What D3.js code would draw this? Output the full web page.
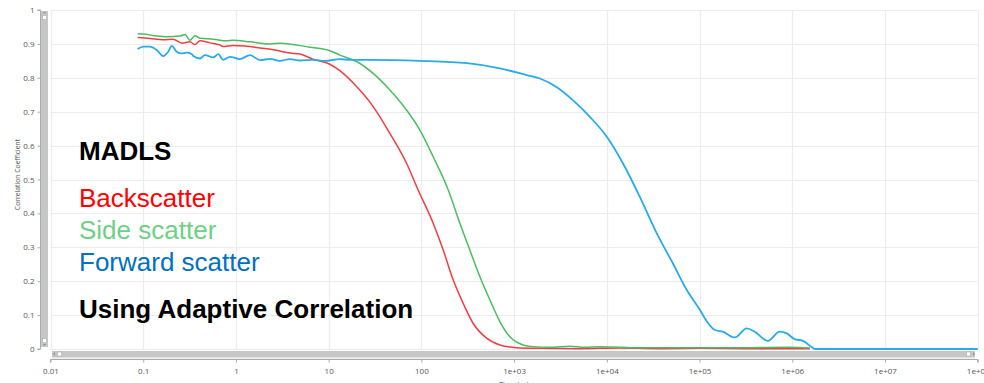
<!DOCTYPE html>
<html>
<head>
<meta charset="utf-8">
<script src="https://cdn.jsdelivr.net/npm/d3@7"></script>
<style>
  html, body { margin: 0; padding: 0; background: #fff; overflow: hidden; }
  svg { display: block; }
</style>
</head>
<body>
<svg id="chart" width="984" height="383"></svg>
<script>
// ---------- data (time in µs, correlation coefficient) ----------
const backTime = [0.0871,0.118,0.163,0.210,0.262,0.319,0.361,0.409,0.525,0.672,0.724,0.929,1.25,1.82,2.63,3.82,4.90,6.76,10.3,13.2,20.0,30.2,45.7,69.2,92.3,134,172,220,282,361,505,702,1060,1900,5120,13800,37200,101000,348000,1550000];
const backValue = [0.919,0.916,0.912,0.914,0.902,0.906,0.898,0.909,0.903,0.897,0.892,0.895,0.894,0.888,0.882,0.873,0.870,0.855,0.840,0.821,0.774,0.715,0.636,0.548,0.469,0.371,0.292,0.204,0.135,0.076,0.032,0.012,0.004,0.002,0.001,0.003,0.001,0.002,0.001,0.001];

const sideTime = [0.0871,0.100,0.140,0.179,0.249,0.282,0.319,0.361,0.409,0.569,0.794,0.935,1.42,2.33,2.98,6.28,10.3,13.2,20.0,30.2,45.7,69.2,96.4,134,195,260,333,428,548,702,900,1250,1590,2430,3990,5790,8410,22700,101000,348000,940000,1550000];
const sideValue = [0.930,0.929,0.923,0.921,0.923,0.928,0.911,0.924,0.917,0.914,0.909,0.911,0.906,0.900,0.902,0.890,0.880,0.867,0.848,0.813,0.764,0.705,0.646,0.567,0.469,0.371,0.292,0.213,0.145,0.081,0.036,0.012,0.007,0.005,0.008,0.005,0.007,0.004,0.004,0.004,0.005,0.003];

const fwdTime = [0.0871,0.100,0.118,0.140,0.164,0.186,0.203,0.230,0.260,0.294,0.333,0.347,0.409,0.463,0.569,0.644,0.729,0.861,1.10,1.42,1.82,2.33,2.98,3.82,4.90,6.76,9.12,13.2,16.9,27.9,96.4,310,702,1370,1900,2890,4300,6560,10000,14900,22700,34600,51500,72900,101000,120000,146000,178000,240000,323000,394000,544000,733000,873000,1060000,1300000,1620000,1750000,100000000];
const fwdValue = [0.885,0.892,0.892,0.882,0.864,0.877,0.894,0.877,0.872,0.874,0.870,0.864,0.857,0.867,0.860,0.870,0.853,0.862,0.855,0.867,0.852,0.856,0.850,0.855,0.851,0.853,0.850,0.855,0.853,0.853,0.850,0.843,0.828,0.808,0.798,0.772,0.734,0.685,0.626,0.548,0.449,0.341,0.253,0.174,0.115,0.081,0.056,0.051,0.034,0.061,0.051,0.024,0.051,0.046,0.029,0.024,0.006,0,0];

const xTickValues = [0.01,0.1,1,10,100,1e3,1e4,1e5,1e6,1e7,1e8];
const xTickLabels = ["0.01","0.1","1","10","100","1e+03","1e+04","1e+05","1e+06","1e+07","1e+08"];
const yTickValues = [0,0.1,0.2,0.3,0.4,0.5,0.6,0.7,0.8,0.9,1];
const yTickLabels = ["0","0.1","0.2","0.3","0.4","0.5","0.6","0.7","0.8","0.9","1"];

const seriesNames = ["Backscatter","Side scatter","Forward scatter"];
const titleText = "MADLS";
const footText = "Using Adaptive Correlation";
const xTitle = "Time (µs)";
const yTitle = "Correlation Coefficient";

// ---------- drawing ----------
const svg = d3.select("#chart");
const pLeft = 50.5, pRight = 977.7, pTop = 10, pBottom = 349;
const x = d3.scaleLog().domain([0.01, 1e8]).range([pLeft, pRight]);
const y = d3.scaleLinear().domain([0, 1]).range([pBottom, pTop]);

// grid
const grid = svg.append("g");
grid.selectAll("line.h").data(yTickValues).join("line")
  .attr("x1", pLeft).attr("x2", pRight)
  .attr("y1", d => Math.round(y(d)) + 0.5).attr("y2", d => Math.round(y(d)) + 0.5)
  .attr("stroke", "#ececec").attr("stroke-width", 1.2);
grid.selectAll("line.v").data(xTickValues).join("line")
  .attr("x1", d => Math.round(x(d)) + 0.5).attr("x2", d => Math.round(x(d)) + 0.5)
  .attr("y1", pTop).attr("y2", pBottom)
  .attr("stroke", "#ececec").attr("stroke-width", 1.2);

// curves
const series = [
  { t: backTime, v: backValue, color: "#ef3e42", w: 1.5 },
  { t: sideTime, v: sideValue, color: "#4cbb63", w: 1.5 },
  { t: fwdTime, v: fwdValue, color: "#2aaae6", w: 1.8 }
];
const line = d3.line().x(d => x(d[0])).y(d => y(d[1])).curve(d3.curveMonotoneX);
series.forEach(s => {
  svg.append("path")
    .datum(s.t.map((t, i) => [t, s.v[i]]))
    .attr("d", line)
    .attr("fill", "none")
    .attr("stroke", s.color)
    .attr("stroke-width", s.w)
    .attr("stroke-linejoin", "round");
});

// vertical scrollbar
svg.append("rect").attr("x", 41).attr("y", 11).attr("width", 7).attr("height", 336).attr("fill", "#c6c6c6");
svg.append("rect").attr("x", 42.5).attr("y", 15.5).attr("width", 4).attr("height", 4).attr("fill", "#fff").attr("stroke", "#aaa").attr("stroke-width", 0.6);
svg.append("rect").attr("x", 42.5).attr("y", 338.5).attr("width", 4).attr("height", 4).attr("fill", "#fff").attr("stroke", "#aaa").attr("stroke-width", 0.6);
svg.append("path").attr("d", "M42.5,13.5 L44.5,11.5 L46.5,13.5 Z").attr("fill", "#999");
svg.append("path").attr("d", "M42.5,344 L44.5,346 L46.5,344 Z").attr("fill", "#999");

// horizontal scrollbar
svg.append("rect").attr("x", 52).attr("y", 351).attr("width", 923).attr("height", 6).attr("fill", "#c6c6c6");
svg.append("rect").attr("x", 52).attr("y", 357).attr("width", 923).attr("height", 1.5).attr("fill", "#e2e2e2");
svg.append("rect").attr("x", 57.5).attr("y", 352).attr("width", 4).attr("height", 4).attr("fill", "#fff").attr("stroke", "#aaa").attr("stroke-width", 0.6);
svg.append("rect").attr("x", 966.5).attr("y", 352).attr("width", 4).attr("height", 4).attr("fill", "#fff").attr("stroke", "#aaa").attr("stroke-width", 0.6);
svg.append("path").attr("d", "M55,352 L53,354 L55,356 Z").attr("fill", "#999");
svg.append("path").attr("d", "M973,352 L975,354 L973,356 Z").attr("fill", "#999");

// axes
const xAxis = d3.axisBottom(x).tickValues(xTickValues)
  .tickFormat((d, i) => xTickLabels[i]).tickSize(3).tickPadding(6);
const gx = svg.append("g").attr("transform", "translate(0,359.5)").call(xAxis);
gx.select(".domain").attr("stroke", "#aaa").attr("d", `M${pLeft},3V0H${pRight}V3`);
gx.selectAll(".tick line").attr("stroke", "#aaa");
gx.selectAll(".tick text").attr("fill", "#555").attr("font-size", "8px")
  .attr("font-family", "'Open Sans', 'Liberation Sans', sans-serif");

const yAxis = d3.axisLeft(y).tickValues(yTickValues)
  .tickFormat((d, i) => yTickLabels[i]).tickSize(3).tickPadding(3);
const gy = svg.append("g").attr("transform", "translate(40.5,0)").call(yAxis);
gy.select(".domain").attr("stroke", "#aaa").attr("d", `M-3,${pTop}H0V${pBottom}H-3`);
gy.selectAll(".tick line").attr("stroke", "#aaa");
gy.selectAll(".tick text").attr("fill", "#555").attr("font-size", "8px")
  .attr("font-family", "'Open Sans', 'Liberation Sans', sans-serif");

// axis titles
svg.append("text").attr("x", (pLeft + pRight) / 2).attr("y", 386.5)
  .attr("text-anchor", "middle").attr("font-size", "7px").attr("fill", "#444")
  .attr("font-family", "'Open Sans', sans-serif").text(xTitle);
svg.append("text").attr("transform", "translate(19.5,174.5) rotate(-90)")
  .attr("text-anchor", "middle").attr("font-size", "6.8px").attr("fill", "#555")
  .attr("font-family", "'Open Sans', sans-serif").text(yTitle);

// annotations
const ann = svg.append("g").attr("font-family", "'Liberation Sans', Arial, sans-serif").attr("font-size", "26px");
ann.append("text").attr("x", 79).attr("y", 159.5).attr("font-weight", "bold").attr("fill", "#000").text(titleText);
const legendColors = ["#ff0000", "#6fcf87", "#0070c0"];
const legendY = [206.7, 238.5, 270.7];
seriesNames.forEach((n, i) => {
  ann.append("text").attr("x", 79).attr("y", legendY[i]).attr("fill", legendColors[i]).text(n);
});
ann.append("text").attr("x", 79).attr("y", 318).attr("font-weight", "bold").attr("fill", "#000").text(footText);
</script>
</body>
</html>
